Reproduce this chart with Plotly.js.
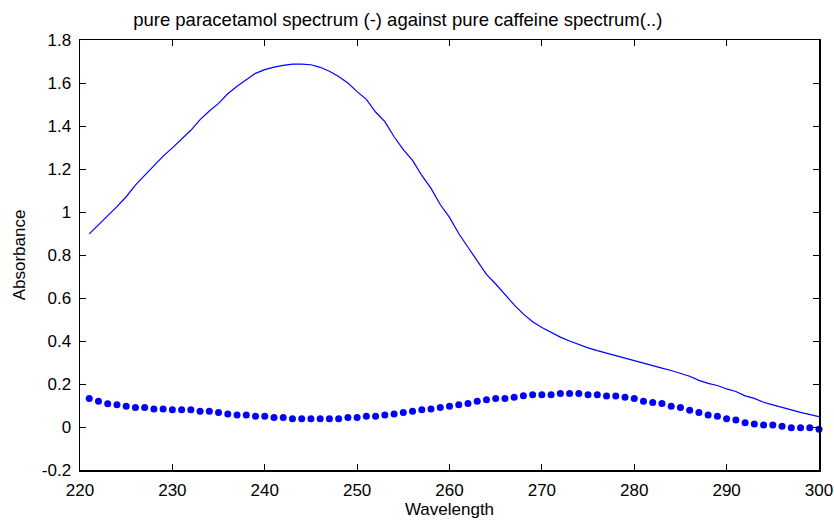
<!DOCTYPE html>
<html>
<head>
<meta charset="utf-8">
<script src="https://cdn.plot.ly/plotly-3.0.1.min.js"></script>
<style>html,body{margin:0;padding:0;background:#fff;}#chart{width:834px;height:523px;}</style>
</head>
<body>
<div id="chart"></div>
<script>
const wavelength = [221,222,223,224,225,226,227,228,229,230,231,232,233,234,235,236,237,238,239,240,
  241,242,243,244,245,246,247,248,249,250,251,252,253,254,255,256,257,258,259,260,
  261,262,263,264,265,266,267,268,269,270,271,272,273,274,275,276,277,278,279,280,
  281,282,283,284,285,286,287,288,289,290,291,292,293,294,295,296,297,298,299,300];

const paracetamol = [0.898,0.94,0.98,1.025,1.071,1.125,1.17,1.215,1.26,1.298,1.34,1.38,1.43,1.47,1.505,1.55,1.585,1.615,1.645,1.662,
  1.674,1.682,1.688,1.688,1.685,1.673,1.655,1.63,1.60,1.56,1.524,1.465,1.42,1.35,1.29,1.24,1.17,1.11,1.035,0.975,
  0.90,0.836,0.775,0.71,0.665,0.615,0.568,0.525,0.49,0.463,0.44,0.418,0.40,0.383,0.368,0.355,0.343,0.332,0.32,0.31,
  0.298,0.286,0.274,0.263,0.25,0.236,0.217,0.203,0.193,0.177,0.165,0.145,0.133,0.115,0.103,0.09,0.08,0.068,0.058,0.048];

const caffeine = [0.133,0.120,0.108,0.103,0.097,0.091,0.091,0.084,0.084,0.080,0.080,0.080,0.073,0.073,0.067,0.061,0.056,0.056,0.050,0.050,
  0.044,0.044,0.038,0.038,0.038,0.038,0.038,0.038,0.044,0.044,0.050,0.050,0.056,0.061,0.067,0.073,0.080,0.084,0.091,0.097,
  0.104,0.109,0.120,0.127,0.133,0.133,0.138,0.145,0.150,0.150,0.150,0.156,0.156,0.156,0.150,0.150,0.144,0.144,0.138,0.133,
  0.120,0.114,0.109,0.097,0.091,0.078,0.067,0.056,0.050,0.038,0.033,0.020,0.014,0.009,0.009,0.003,-0.003,-0.003,-0.003,-0.011];

const xTicks = [220,230,240,250,260,270,280,290,300];
const yTicks = [-0.2,0,0.2,0.4,0.6,0.8,1,1.2,1.4,1.6,1.8];
const yTickLabels = ['-0.2','0','0.2','0.4','0.6','0.8','1','1.2','1.4','1.6','1.8'];

const titleText = 'pure paracetamol spectrum (-) against pure caffeine spectrum(..)';
const xTitle = 'Wavelength';
const yTitle = 'Absorbance';

const font = {family: '"Liberation Sans", Arial, sans-serif', size: 17, color: '#000'};
const titleFont = {family: '"Liberation Sans", Arial, sans-serif', size: 18.5, color: '#000'};

const traces = [
  {x: wavelength, y: paracetamol, type: 'scatter', mode: 'lines', line: {color: '#0000ff', width: 1.2}, hoverinfo: 'skip'},
  {x: wavelength, y: caffeine, type: 'scatter', mode: 'markers', marker: {color: '#0000ff', size: 7}, hoverinfo: 'skip', cliponaxis: false}
];

const axisCommon = {
  showgrid: false, zeroline: false, showline: true, linecolor: '#000', linewidth: 1.5,
  mirror: 'ticks', ticks: 'inside', ticklen: 6, tickcolor: '#000', tickwidth: 1,
  tickfont: font
};

const layout = {
  width: 834, height: 523,
  margin: {l: 80, r: 15, t: 40, b: 53},
  paper_bgcolor: '#fff', plot_bgcolor: '#fff',
  showlegend: false,
  font: font,
  title: {text: titleText, font: titleFont, xref: 'paper', x: 0.43, xanchor: 'center', yref: 'container', y: 0.962, yanchor: 'middle'},
  xaxis: Object.assign({}, axisCommon, {
    range: [220, 300], tickvals: xTicks, ticktext: xTicks.map(String), ticklabelstandoff: 4,
    title: {text: xTitle, font: font, standoff: 4}
  }),
  yaxis: Object.assign({}, axisCommon, {
    range: [-0.2, 1.8], tickvals: yTicks, ticktext: yTickLabels, ticklabelstandoff: 4,
    title: {text: yTitle, font: font, standoff: 12}
  })
};

Plotly.newPlot('chart', traces, layout, {staticPlot: true, displayModeBar: false});
</script>
</body>
</html>
